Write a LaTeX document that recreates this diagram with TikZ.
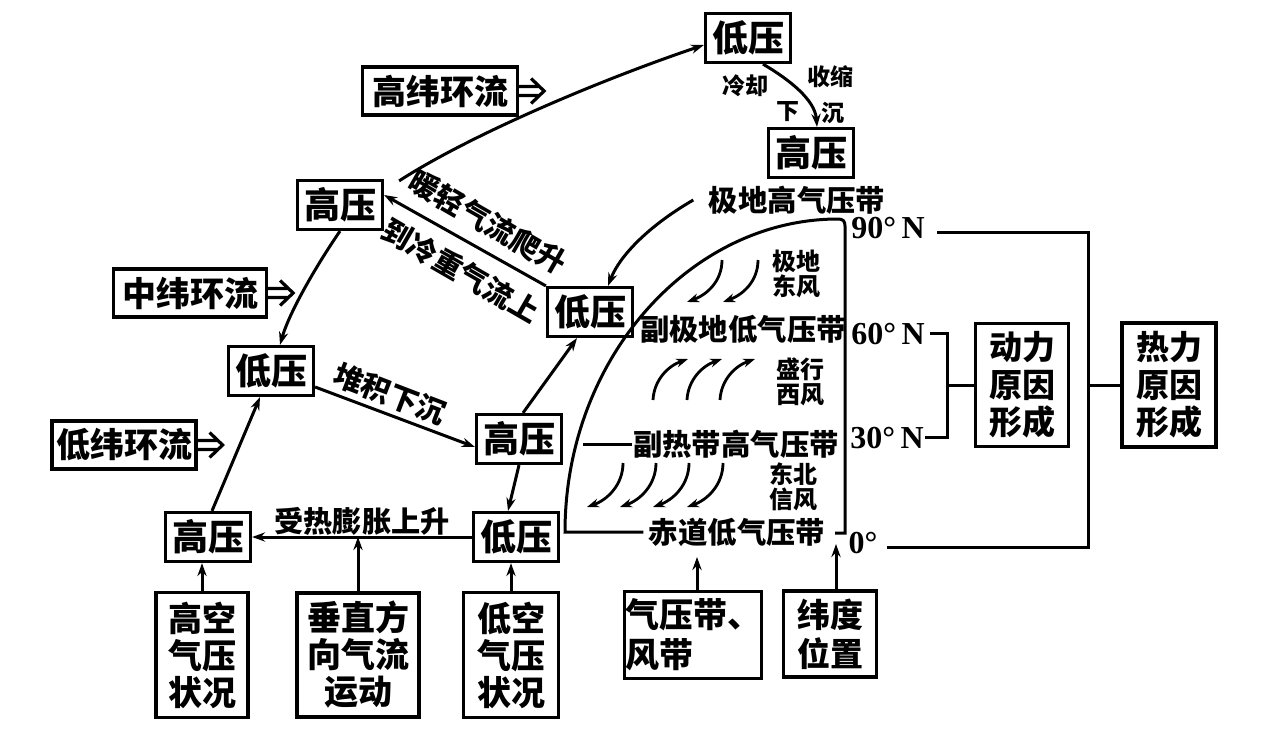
\documentclass[tikz,border=0pt]{standalone}
\usepackage{fontspec}
\setmainfont{Noto Sans CJK SC}
\newfontfamily\serifb{Liberation Serif}
\usetikzlibrary{arrows.meta}
\begin{document}
\begin{tikzpicture}[x=0.5pt,y=-0.5pt,
  line width=1.5pt,
  >={Stealth[length=6.5pt,width=4.6pt]},
  bx/.style={draw,line width=1.6pt,inner sep=0pt,align=center},
  pbox/.style={bx,minimum width=42.5pt,minimum height=24.5pt,font=\fontsize{18}{20}\selectfont\bfseries},
  cbox/.style={bx,minimum height=24pt,font=\fontsize{17}{19}\selectfont\bfseries},
  fbox/.style={bx,font=\fontsize{17}{18.5}\selectfont\bfseries},
  band/.style={inner sep=0pt,font=\fontsize{14.7}{16}\selectfont\bfseries},
  lbl/.style={inner sep=0pt,font=\fontsize{14.6}{16}\selectfont\bfseries},
  wind/.style={inner sep=0pt,align=center,font=\fontsize{12}{12.75}\selectfont\bfseries},
  tiny/.style={inner sep=0pt,font=\fontsize{11.5}{12}\selectfont\bfseries},
  deg/.style={inner sep=0pt,font=\serifb\bfseries\fontsize{16}{18}\selectfont},
  warr/.style={line width=1.4pt,-{Stealth[length=6pt,width=4.4pt]}},
  harrow/.pic={\draw[line width=1.6pt] (0,-4.5) -- (19,-4.5) (0,4.5) -- (19,4.5) (12,-12.5) -- (25,0) -- (12,12.5);}
]
\fill[white] (0,0) rectangle (1280,734);
\useasboundingbox (0,0) rectangle (1280,734);

% pressure boxes
\node[pbox] (lowTop) at (748,38) {低压};
\node[pbox] (highTR) at (811,153) {高压};
\node[pbox] (highUL) at (340,205) {高压};
\node[pbox] (lowMid) at (590,312) {低压};
\node[pbox] (lowL) at (271,371) {低压};
\node[pbox] (highC) at (519,439) {高压};
\node[pbox] (highBL) at (208,537) {高压};
\node[pbox] (lowB) at (516,537) {低压};

% circulation boxes
\node[cbox,minimum width=77.5pt] (gaowei) at (440,91) {高纬环流};
\node[cbox,minimum width=76.5pt] (zhongwei) at (190,293) {中纬环流};
\node[cbox,minimum width=72pt] (diwei) at (124,445) {低纬环流};
\pic at (gaowei.east) {harrow};
\pic at (zhongwei.east) {harrow};
\pic at (diwei.east) {harrow};

% bottom factor boxes
\node[fbox,minimum width=46pt,minimum height=62.5pt] (gaokong) at (202,655) {高空\\气压\\状况};
\node[fbox,minimum width=61pt,minimum height=62pt] (chuizhi) at (358,655) {垂直方\\向气流\\运动};
\node[fbox,minimum width=47.5pt,minimum height=62.5pt] (dikong) at (511,655) {低空\\气压\\状况};
\node[bx,minimum width=68.5pt,minimum height=43.5pt,align=left,font=\fontsize{17}{20}\selectfont\bfseries] (qiya) at (693,635) {气压带、\\风带};
\node[bx,minimum width=46.5pt,minimum height=43pt,font=\fontsize{16.5}{19.5}\selectfont\bfseries] (weidu) at (830,634) {纬度\\位置};
\node[bx,minimum width=46.5pt,minimum height=61.5pt,font=\fontsize{16.5}{18.75}\selectfont\bfseries] (dongli) at (1022,385) {动力\\原因\\形成};
\node[bx,minimum width=47pt,minimum height=62pt,font=\fontsize{16.5}{18.75}\selectfont\bfseries] (reli) at (1169,385) {热力\\原因\\形成};

% pressure belts
\node[band] (jidi) at (797,200) {极地高气压带};
\node[band] (fuji) at (743,329) {副极地低气压带};
\node[band] (fure) at (736,444) {副热带高气压带};
\node[band] (chidao) at (737,532) {赤道低气压带};
\node[wind] (jddf) at (796,274) {极地\\东风};
\node[wind] (sxxf) at (800,382) {盛行\\西风};
\node[wind] (dbxf) at (793,487) {东北\\信风};

% quarter outline
\coordinate (c30) at (583,444);
\coordinate (wtip) at (836,544);
\coordinate (qtip) at (697,557);
\draw ([xshift=-2pt]chidao.west) -- (565,532) .. controls (565,359) and (690,219) .. (838,219)
  .. controls (843,219) and (845,221) .. (845,226) -- (845,533) -- (835,533);
\draw (fure.west) -- (c30);

% wind arrows
\draw[warr] (722,260) .. controls (722,282) and (706,295) .. (687,302);
\draw[warr] (758,260) .. controls (758,282) and (742,295) .. (723,302);
\draw[warr] (653,400) .. controls (654,380) and (668,366) .. (688,359);
\draw[warr] (687,400) .. controls (688,380) and (702,366) .. (722,359);
\draw[warr] (720,400) .. controls (721,380) and (735,366) .. (755,359);
\draw[warr] (623,463) .. controls (623,485) and (607,500) .. (587,507);
\draw[warr] (656,463) .. controls (656,485) and (640,500) .. (620,507);
\draw[warr] (689,463) .. controls (689,485) and (673,500) .. (653,507);
\draw[warr] (723,463) .. controls (723,485) and (707,500) .. (687,507);

% degree labels and brackets
\node[deg] (d90) at (888,228) {90°\,N};
\node[deg] (d60) at (888,334) {60°\,N};
\node[deg] (d30) at (887,438) {30°\,N};
\node[deg] (d0) at (863,543) {0°};
\coordinate (l90) at (937,232);
\coordinate (l0) at (887,547);
\coordinate (rmid) at (1088,385);
\coordinate (b60) at (930,333);
\coordinate (b30) at (925,437);
\coordinate (bmid) at (947,385);
\draw (l90) -| (rmid) |- (l0);
\draw (rmid) -- (reli.west);
\draw (b60) -| (bmid) |- (b30);
\draw (bmid) -- (dongli.west);

% labels
\node[lbl] (heat) at (362,521) {受热膨胀上升};
\node[lbl,rotate=-21] (duiji) at (390,394) {堆积下沉};
\node[lbl,rotate=-30] (nuan) at (488,222) {暖轻气流爬升};
\node[lbl,rotate=-30] (leng) at (461,271) {到冷重气流上};
\node[tiny] (lengque) at (745,86) {冷却};
\node[tiny] (shousuo) at (830,77) {收缩};
\node[tiny] (xia) at (788,112) {下};
\node[tiny] (chen) at (833,113) {沉};

% connectors
\draw[->] (gaokong.north) -- (gaokong.north |- highBL.south);
\draw[->] (dikong.north) -- (dikong.north |- lowB.south);
\draw[->] (chuizhi.north) -- (chuizhi.north |- lowB.west);
\draw[->] (qiya.north -| qtip) -- (qtip);
\draw[->] (weidu.north -| wtip) -- (wtip);
\draw[->] (lowB.west) -- (highBL.east);
\draw[->] ([xshift=2pt]highBL.north) -- ([xshift=-5.5pt]lowL.south);
\draw[->] ([yshift=-8pt]lowL.east) -- ([yshift=-4pt]highC.west);
\draw[->] ([xshift=2pt]highC.north) -- ([xshift=-6.5pt]lowMid.south);
\draw[->] (highC.south) -- ([xshift=-4pt]lowB.north);
\draw[->] (lowMid.north west) -- ([yshift=5pt]highUL.east);
\draw[->] ([xshift=7.5pt,yshift=-1pt]highUL.north east) .. controls (470,135) and (600,80) .. ([yshift=-3.5pt]lowTop.west);
\draw[->] (highUL.south) .. controls (320,260) and (290,310) .. ([xshift=4.5pt]lowL.north);
\draw[->] ([xshift=7.5pt]lowTop.south) .. controls (790,80) and (815,100) .. ([xshift=3pt]highTR.north);
\draw[->] ([xshift=-7pt]jidi.west) .. controls (650,225) and (620,255) .. ([xshift=9pt]lowMid.north);
\end{tikzpicture}
\end{document}
